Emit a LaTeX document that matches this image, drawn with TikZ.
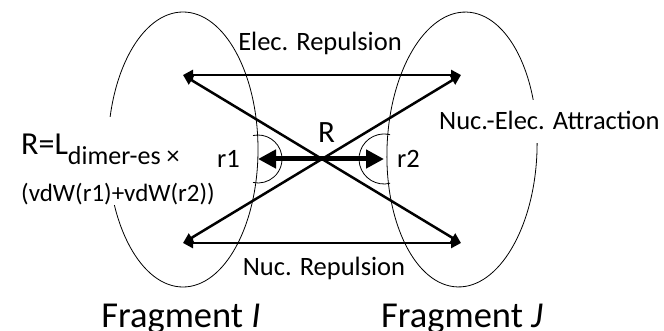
\documentclass[tikz,border=0pt]{standalone}
\usepackage{fontspec}
\setmainfont{Carlito}
\usetikzlibrary{arrows.meta,shapes.geometric}
\begin{document}
\begin{tikzpicture}[x=1pt,y=-1pt,
  frag/.style={draw,ellipse,line width=0.8pt,minimum width=150pt,minimum height=275pt,inner sep=0pt,outer sep=0pt},
  force/.style={line width=2.5pt,{Triangle[length=10pt,width=10pt]}-{Triangle[length=10pt,width=10pt]}},
  dist/.style={line width=5pt,{Triangle[length=18pt,width=18pt]}-{Triangle[length=18pt,width=18pt]}},
  anglearc/.style={line width=0.8pt},
  lbl/.style={font=\fontsize{26.5}{31}\selectfont,inner sep=0pt},
  big/.style={font=\fontsize{36.5}{42}\selectfont,inner sep=0pt}
]
\useasboundingbox (0,0) rectangle (664,331);
% fragments
\node[frag] (fragI) at (183,149.5) {};
\node[frag,rotate=-2] (fragJ) at (462,149.5) {};
% texts that cut the ellipses
\node[anchor=base west,inner sep=0pt,fill=white,text height=38pt,text depth=25pt,
      font=\fontsize{32}{38}\selectfont] (formula) at (21,155)
      {R=L\raisebox{-10pt}{\fontsize{26}{30}\selectfont dimer-es ×}};
\node[anchor=base west,inner sep=0pt,fill=white,text height=22pt,text depth=3pt,
      font=\fontsize{25}{30}\selectfont] (vdw) at (21,202) {(vdW(r1)+vdW(r2))};
\node[lbl,anchor=base west,fill=white,text height=29.5pt,text depth=13.5pt] (attr) at (439,129.5) {Nuc.-Elec. Attraction};
% end points
\coordinate (TL) at (183,75);
\coordinate (TR) at (461,75);
\coordinate (BL) at (183,243);
\coordinate (BR) at (461,243);
\coordinate (r1c) at (258,159);
\coordinate (r2c) at (384,159);
% forces
\draw[force] (TL) -- (TR);
\draw[force] (BL) -- (BR);
\draw[force] (TL) -- (BR);
\draw[force] (BL) -- (TR);
\draw[dist] (r1c) -- (r2c);
% radius arcs
\draw[anglearc] (r1c) ++(-102:24) arc[start angle=-102,end angle=102,radius=24];
\draw[anglearc] (r2c) ++(76:25) arc[start angle=76,end angle=284,radius=25];
% labels
\node[lbl,anchor=base] (elec) at (320,51) {Elec. Repulsion};
\node[lbl,anchor=base] (nucrep) at (324,275) {Nuc. Repulsion};
\node[lbl,anchor=base west] (r1) at (217,168) {r1};
\node[lbl,anchor=base west] (r2) at (397,168) {r2};
\node[anchor=base,inner sep=0pt,font=\fontsize{31}{37}\selectfont] (Rlab) at (326.5,143) {R};
\node[big,anchor=base] (fI) at (181,327) {Fragment \textit{I}};
\node[big,anchor=base] (fJ) at (462,327) {Fragment \textit{J}};
\end{tikzpicture}
\end{document}
